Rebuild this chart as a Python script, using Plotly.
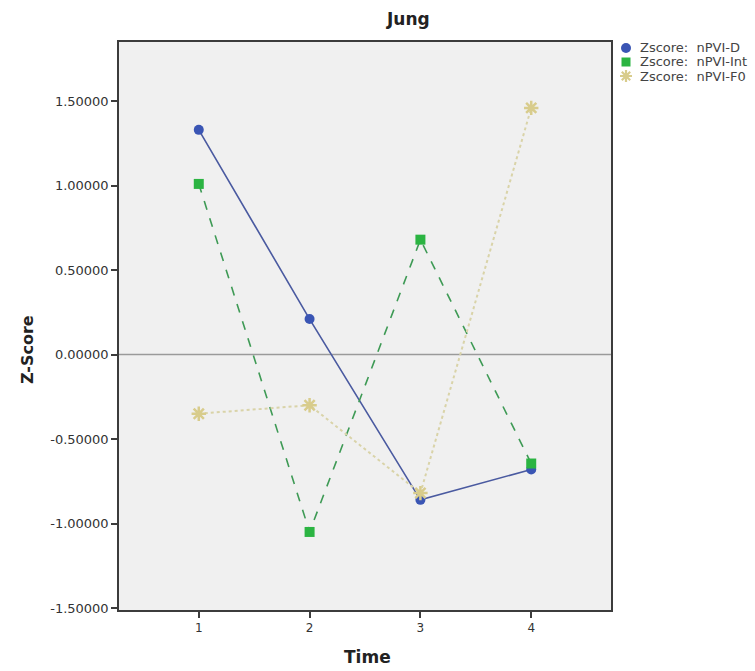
import plotly.graph_objects as go

# Time points and z-scores per measure
time = [1, 2, 3, 4]
npvi_d = [1.33, 0.21, -0.86, -0.68]
npvi_int = [1.01, -1.05, 0.68, -0.645]
npvi_f0 = [-0.35, -0.30, -0.82, 1.46]

series_names = ["Zscore:  nPVI-D", "Zscore:  nPVI-Int", "Zscore:  nPVI-F0"]
y_ticks = [-1.5, -1.0, -0.5, 0.0, 0.5, 1.0, 1.5]
y_tick_text = ["-1.50000", "-1.00000", "-0.50000", "0.00000", "0.50000", "1.00000", "1.50000"]

FONT = "DejaVu Sans"
W, H = 755, 671
ML, MR, MT, MB = 119, 144, 42, 61
PW, PH = W - ML - MR, H - MT - MB

BLUE_LINE, BLUE_MARK = "#4a5aa0", "#3a55b4"
GREEN_LINE, GREEN_MARK = "#3e9a55", "#2bb442"
TAN_LINE, TAN_MARK = "#d9d3a8", "#d8cc8c"


def px_x(px):
    return (px - ML) / PW


def px_y(py):
    return (H - MB - py) / PH


fig = go.Figure()

fig.add_trace(go.Scatter(
    x=time, y=npvi_d, name=series_names[0], mode="lines+markers",
    line=dict(color=BLUE_LINE, width=1.6),
    marker=dict(symbol="circle", size=10, color=BLUE_MARK),
))
fig.add_trace(go.Scatter(
    x=time, y=npvi_int, name=series_names[1], mode="lines+markers",
    line=dict(color=GREEN_LINE, width=1.6, dash="dash"),
    marker=dict(symbol="square", size=10, color=GREEN_MARK),
))
fig.add_trace(go.Scatter(
    x=time, y=npvi_f0, name=series_names[2], mode="lines+markers",
    line=dict(color=TAN_LINE, width=2, dash="dot"),
    marker=dict(symbol="asterisk-open", size=12, color=TAN_MARK,
                line=dict(color=TAN_MARK, width=2.5)),
))

# Zero reference line
fig.add_shape(type="line", xref="paper", yref="y", x0=0, x1=1, y0=0, y1=0,
              line=dict(color="#9a9a9a", width=1.5), layer="below")

# Legend drawn beside the plot: symbol + label per series
legend_rows = [48, 62, 76]
sym_x = px_x(626)
fig.add_shape(type="circle", xref="paper", yref="paper",
              xsizemode="pixel", ysizemode="pixel",
              xanchor=sym_x, yanchor=px_y(legend_rows[0]),
              x0=-5, x1=5, y0=-5, y1=5,
              fillcolor=BLUE_MARK, line=dict(width=0))
fig.add_shape(type="rect", xref="paper", yref="paper",
              xsizemode="pixel", ysizemode="pixel",
              xanchor=sym_x, yanchor=px_y(legend_rows[1]),
              x0=-4.5, x1=4.5, y0=-4.5, y1=4.5,
              fillcolor=GREEN_MARK, line=dict(width=0))
fig.add_shape(type="path", xref="paper", yref="paper",
              xsizemode="pixel", ysizemode="pixel",
              xanchor=sym_x, yanchor=px_y(legend_rows[2]),
              path="M -6 0 L 6 0 M 0 -6 L 0 6 M -4.2 -4.2 L 4.2 4.2 M -4.2 4.2 L 4.2 -4.2",
              line=dict(color=TAN_MARK, width=2.2))
for name, row in zip(series_names, legend_rows):
    fig.add_annotation(text=name, xref="paper", yref="paper",
                       x=px_x(638), y=px_y(row), xanchor="left", yanchor="middle",
                       showarrow=False,
                       font=dict(family=FONT, size=13, color="#444444"))

fig.update_layout(
    width=W, height=H,
    margin=dict(l=ML, r=MR, t=MT, b=MB, autoexpand=False),
    paper_bgcolor="white",
    plot_bgcolor="#f0f0f0",
    font=dict(family=FONT, size=13, color="#333333"),
    showlegend=False,
    xaxis=dict(
        range=[0.28, 4.72], tickvals=time, ticktext=[str(t) for t in time],
        showgrid=False, zeroline=False, automargin=False,
        showline=True, mirror=True, linecolor="#3c3c3c", linewidth=1.5,
        ticks="outside", ticklen=6, tickwidth=1.5, tickcolor="#3c3c3c",
        tickfont=dict(family=FONT, size=12, color="#333333"),
    ),
    yaxis=dict(
        range=[-1.512, 1.85], tickvals=y_ticks, ticktext=y_tick_text,
        showgrid=False, zeroline=False, automargin=False,
        showline=True, mirror=True, linecolor="#3c3c3c", linewidth=1.5,
        ticks="outside", ticklen=6, tickwidth=1.5, tickcolor="#3c3c3c",
        tickfont=dict(family=FONT, size=13, color="#333333"),
    ),
)

# Axis titles and chart title
fig.add_annotation(text="<b>Time</b>", xref="paper", yref="paper",
                   x=px_x(367), y=px_y(657), xanchor="center", yanchor="middle",
                   showarrow=False,
                   font=dict(family=FONT, size=17, color="#222222"))
fig.add_annotation(text="<b>Z-Score</b>", xref="paper", yref="paper",
                   x=px_x(28), y=px_y(350), xanchor="center", yanchor="middle",
                   textangle=-90, showarrow=False,
                   font=dict(family=FONT, size=16, color="#222222"))
fig.add_annotation(text="<b>Jung</b>", xref="paper", yref="paper",
                   x=px_x(408), y=px_y(19), xanchor="center", yanchor="middle",
                   showarrow=False,
                   font=dict(family=FONT, size=17, color="#222222"))

fig.write_html("out.html")
